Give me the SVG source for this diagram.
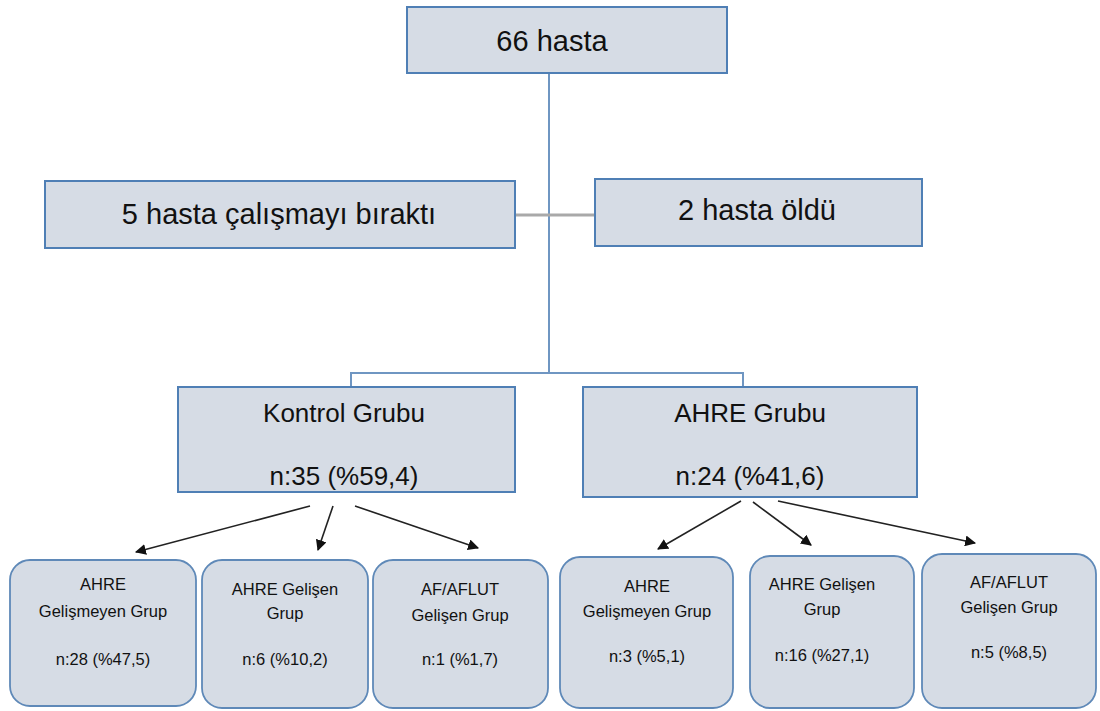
<svg xmlns="http://www.w3.org/2000/svg" width="1100" height="711" viewBox="0 0 1100 711">
<defs>
<style>
.box{fill:#d6dce5;stroke:#4f7fb5;stroke-width:2}
.rbox{fill:#d6dce5;stroke:#5f89b8;stroke-width:1.8}
.t{font-family:"Liberation Sans",Arial,sans-serif;fill:#111;text-anchor:middle}
.big{font-size:29px}
.mid{font-size:26px}
.sm{font-size:16.5px}
.blue{stroke:#6f96c2;stroke-width:2;fill:none}
.arr{stroke:#222;stroke-width:1.6;fill:none;marker-end:url(#ah)}
</style>
<marker id="ah" viewBox="0 0 10 10" refX="9" refY="5" markerWidth="11" markerHeight="11" markerUnits="userSpaceOnUse" orient="auto">
<path d="M0,0 L10,5 L0,10 z" fill="#111"/>
</marker>
</defs>
<rect width="1100" height="711" fill="#fff"/>
<g id="connectors">
<line x1="549" y1="73" x2="549" y2="373" class="blue"/>
<line x1="515" y1="215" x2="595" y2="215" stroke="#a9a9a9" stroke-width="3"/>
<polyline points="351,387 351,373 743,373 743,387" class="blue"/>
<line x1="310" y1="506" x2="136" y2="552" class="arr"/>
<line x1="333" y1="506" x2="318" y2="550" class="arr"/>
<line x1="355" y1="506" x2="478" y2="548" class="arr"/>
<line x1="741" y1="501" x2="658" y2="549" class="arr"/>
<line x1="753" y1="502" x2="811" y2="545" class="arr"/>
<line x1="778" y1="501" x2="975" y2="543" class="arr"/>
</g>
<g id="n-top"><rect x="407" y="7" width="320" height="66" class="box"/><text x="552" y="51" class="t big" font-size="31">66 hasta</text></g>
<g id="n-left"><rect x="45" y="181" width="470" height="67" class="box"/><text x="279" y="224" class="t big">5 hasta çalışmayı bıraktı</text></g>
<g id="n-right"><rect x="595" y="179" width="327" height="67" class="box"/><text x="757" y="220" class="t big">2 hasta öldü</text></g>
<g id="n-kontrol"><rect x="178" y="387" width="337" height="105" class="box"/><text x="344" y="422" class="t mid">Kontrol Grubu</text><text x="344" y="485" class="t mid">n:35 (%59,4)</text></g>
<g id="n-ahre"><rect x="583" y="387" width="334" height="110" class="box"/><text x="750" y="422" class="t mid">AHRE Grubu</text><text x="750" y="485" class="t mid">n:24 (%41,6)</text></g>
<g id="n-k1"><rect x="10" y="560" width="186" height="146" rx="20" class="rbox"/><text x="103" y="590" class="t sm">AHRE</text><text x="103" y="617" class="t sm">Gelişmeyen Grup</text><text x="103" y="665" class="t sm">n:28 (%47,5)</text></g>
<g id="n-k2"><rect x="202" y="560" width="166" height="148" rx="20" class="rbox"/><text x="285" y="595" class="t sm">AHRE Gelişen</text><text x="285" y="619" class="t sm">Grup</text><text x="285" y="665" class="t sm">n:6 (%10,2)</text></g>
<g id="n-k3"><rect x="373" y="560" width="175" height="148" rx="20" class="rbox"/><text x="460" y="595" class="t sm">AF/AFLUT</text><text x="460" y="621" class="t sm">Gelişen Grup</text><text x="460" y="665" class="t sm">n:1 (%1,7)</text></g>
<g id="n-a1"><rect x="560" y="557" width="173" height="151" rx="20" class="rbox"/><text x="647" y="592" class="t sm">AHRE</text><text x="647" y="617" class="t sm">Gelişmeyen Grup</text><text x="647" y="662" class="t sm">n:3 (%5,1)</text></g>
<g id="n-a2"><rect x="750" y="556" width="164" height="152" rx="20" class="rbox"/><text x="822" y="590" class="t sm">AHRE Gelişen</text><text x="822" y="615" class="t sm">Grup</text><text x="822" y="661" class="t sm">n:16 (%27,1)</text></g>
<g id="n-a3"><rect x="922" y="554" width="174" height="154" rx="20" class="rbox"/><text x="1009" y="588" class="t sm">AF/AFLUT</text><text x="1009" y="613" class="t sm">Gelişen Grup</text><text x="1009" y="658" class="t sm">n:5 (%8,5)</text></g>
</svg>
